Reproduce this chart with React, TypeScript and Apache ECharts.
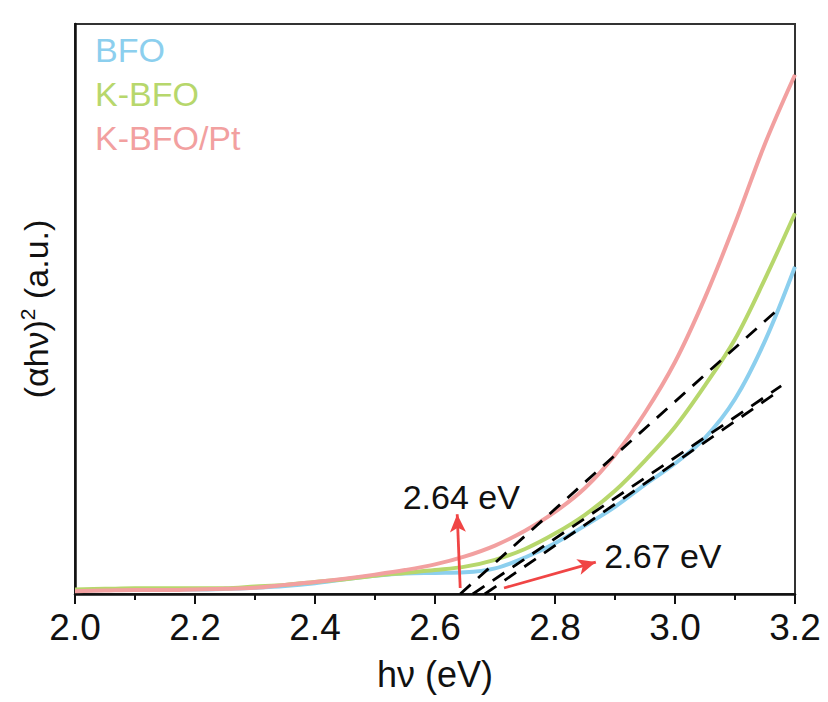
import React, { useEffect, useRef } from "react";
import * as echarts from "echarts";

// Photon energy (eV) sampled for every Tauc curve
const energy = [
  2.0, 2.05, 2.1, 2.15, 2.2, 2.25, 2.3, 2.35, 2.4, 2.45, 2.5, 2.55, 2.6,
  2.65, 2.7, 2.75, 2.8, 2.85, 2.9, 2.95, 3.0, 3.05, 3.1, 3.15, 3.2,
];

// (αhν)² in arbitrary units
const bfo = [
  0.6, 0.7, 0.8, 0.8, 0.8, 0.9, 1.1, 1.4, 1.9, 2.6, 3.2, 3.6, 3.7, 3.8, 4.5,
  6.4, 8.9, 12.0, 15.3, 19.2, 22.9, 27.4, 34.2, 44.4, 57.4,
];
const kbfo = [
  0.8, 0.9, 1.0, 1.0, 1.0, 1.0, 1.3, 1.6, 2.1, 2.6, 3.2, 3.7, 4.2, 4.8, 6.0,
  7.9, 10.6, 13.9, 18.1, 23.4, 29.3, 36.6, 44.7, 55.3, 66.8,
];
const kbfoPt = [
  0.5, 0.6, 0.7, 0.7, 0.8, 0.9, 1.1, 1.6, 2.1, 2.7, 3.4, 4.2, 5.2, 6.6, 8.5,
  11.1, 14.4, 18.6, 24.4, 31.8, 40.7, 52.0, 65.0, 79.0, 91.1,
];

// Linear extrapolations of the absorption edges: [start, end] as [eV, value]
const fitKbfoPt = [[2.642, 0], [3.167, 49.5]];
const fitKbfo = [[2.663, 0], [3.177, 36.5]];
const fitBfo = [[2.683, 0], [3.173, 35.6]];

// Arrows pointing from the intercepts to their band-gap labels
const arrowGap1 = [[2.642, 1.05], [2.637, 14.0]];
const arrowGap2 = [[2.715, 1.05], [2.868, 5.6]];

// Band-gap labels: [eV, value, text]
const gapLabels = [
  [2.547, 17.0, "2.64 eV"],
  [2.883, 6.6, "2.67 eV"],
];

const xTicks = { min: 2.0, max: 3.2, interval: 0.2 };

const seriesNames = ["BFO", "K-BFO", "K-BFO/Pt"];
const seriesColors = ["#8ccfee", "#b7d76c", "#f2a0a0"];

const FONT = "'Liberation Sans', Arial, Helvetica, sans-serif";

const pair = (xs: number[], ys: number[]) => xs.map((x, i) => [x, ys[i]]);

export default function App() {
  const ref = useRef<HTMLDivElement>(null);

  useEffect(() => {
    document.body.style.margin = "0";
    if (!ref.current) return;
    const chart = echarts.init(ref.current, undefined, { renderer: "svg" });

    const curve = (name: string, ys: number[], color: string) => ({
      name,
      type: "line",
      data: pair(energy, ys),
      smooth: 0.35,
      symbol: "none",
      lineStyle: { color, width: 4 },
      itemStyle: { color },
      z: 2,
    });

    const fit = (name: string, pts: number[][]) => ({
      name,
      type: "line",
      data: pts,
      symbol: "none",
      lineStyle: { color: "#000", width: 2.8, type: [14, 10] },
      z: 3,
      silent: true,
    });

    chart.setOption({
      animation: false,
      backgroundColor: "#fff",
      grid: {
        left: 75,
        right: 33,
        top: 24,
        bottom: 108,
        show: true,
        borderColor: "#333",
        borderWidth: 2,
      },
      legend: {
        orient: "vertical",
        left: 85,
        top: 28,
        icon: "none",
        itemWidth: 0,
        itemHeight: 0,
        itemGap: 10,
        selectedMode: false,
        textStyle: { fontSize: 34, fontFamily: FONT },
        data: seriesNames.map((n, i) => ({
          name: n,
          textStyle: { color: seriesColors[i], fontSize: 34, fontFamily: FONT },
        })),
      },
      xAxis: {
        type: "value",
        min: xTicks.min,
        max: xTicks.max,
        interval: xTicks.interval,
        name: "hν (eV)",
        nameLocation: "middle",
        nameGap: 62,
        nameTextStyle: { fontSize: 36, fontFamily: FONT, color: "#111" },
        axisLine: { show: true, lineStyle: { color: "#111", width: 2.5 } },
        axisTick: { show: true, length: 10, lineStyle: { color: "#111", width: 2 } },
        minorTick: { show: true, splitNumber: 2, length: 6, lineStyle: { color: "#111", width: 2 } },
        axisLabel: {
          fontSize: 37,
          fontFamily: FONT,
          color: "#111",
          margin: 15,
          formatter: (v: number) => v.toFixed(1),
        },
        splitLine: { show: false },
      },
      yAxis: {
        type: "value",
        min: 0,
        max: 100,
        name: "(αhν){sup|2} (a.u.)",
        nameLocation: "middle",
        nameGap: 20,
        nameTextStyle: {
          fontSize: 34,
          fontFamily: FONT,
          color: "#111",
          rich: {
            sup: { fontSize: 21, fontFamily: FONT, color: "#111", padding: [0, 0, 17, 0] },
          },
        },
        axisLine: { show: true, lineStyle: { color: "#111", width: 2.5 } },
        axisTick: { show: false },
        axisLabel: { show: false },
        splitLine: { show: false },
      },
      series: [
        curve(seriesNames[0], bfo, seriesColors[0]),
        curve(seriesNames[1], kbfo, seriesColors[1]),
        curve(seriesNames[2], kbfoPt, seriesColors[2]),
        fit("fit K-BFO/Pt", fitKbfoPt),
        fit("fit K-BFO", fitKbfo),
        fit("fit BFO", fitBfo),
        {
          name: "gaps",
          type: "scatter",
          data: gapLabels,
          symbolSize: 1,
          itemStyle: { color: "rgba(0,0,0,0)" },
          silent: true,
          z: 4,
          label: {
            show: true,
            position: [0, 0],
            align: "left",
            verticalAlign: "middle",
            fontSize: 34,
            fontFamily: FONT,
            color: "#111",
            opacity: 1,
            textBorderWidth: 0,
            formatter: (p: any) => p.value[2],
          },
          markLine: {
            silent: true,
            symbol: ["none", "arrow"],
            symbolSize: [12, 18],
            label: { show: false },
            lineStyle: { color: "#f04545", width: 2.8, type: "solid" },
            data: [
              [{ coord: arrowGap1[0] }, { coord: arrowGap1[1] }],
              [{ coord: arrowGap2[0] }, { coord: arrowGap2[1] }],
            ],
          },
        },
      ],
    });

    return () => chart.dispose();
  }, []);

  return <div ref={ref} style={{ width: 828, height: 702 }} />;
}
